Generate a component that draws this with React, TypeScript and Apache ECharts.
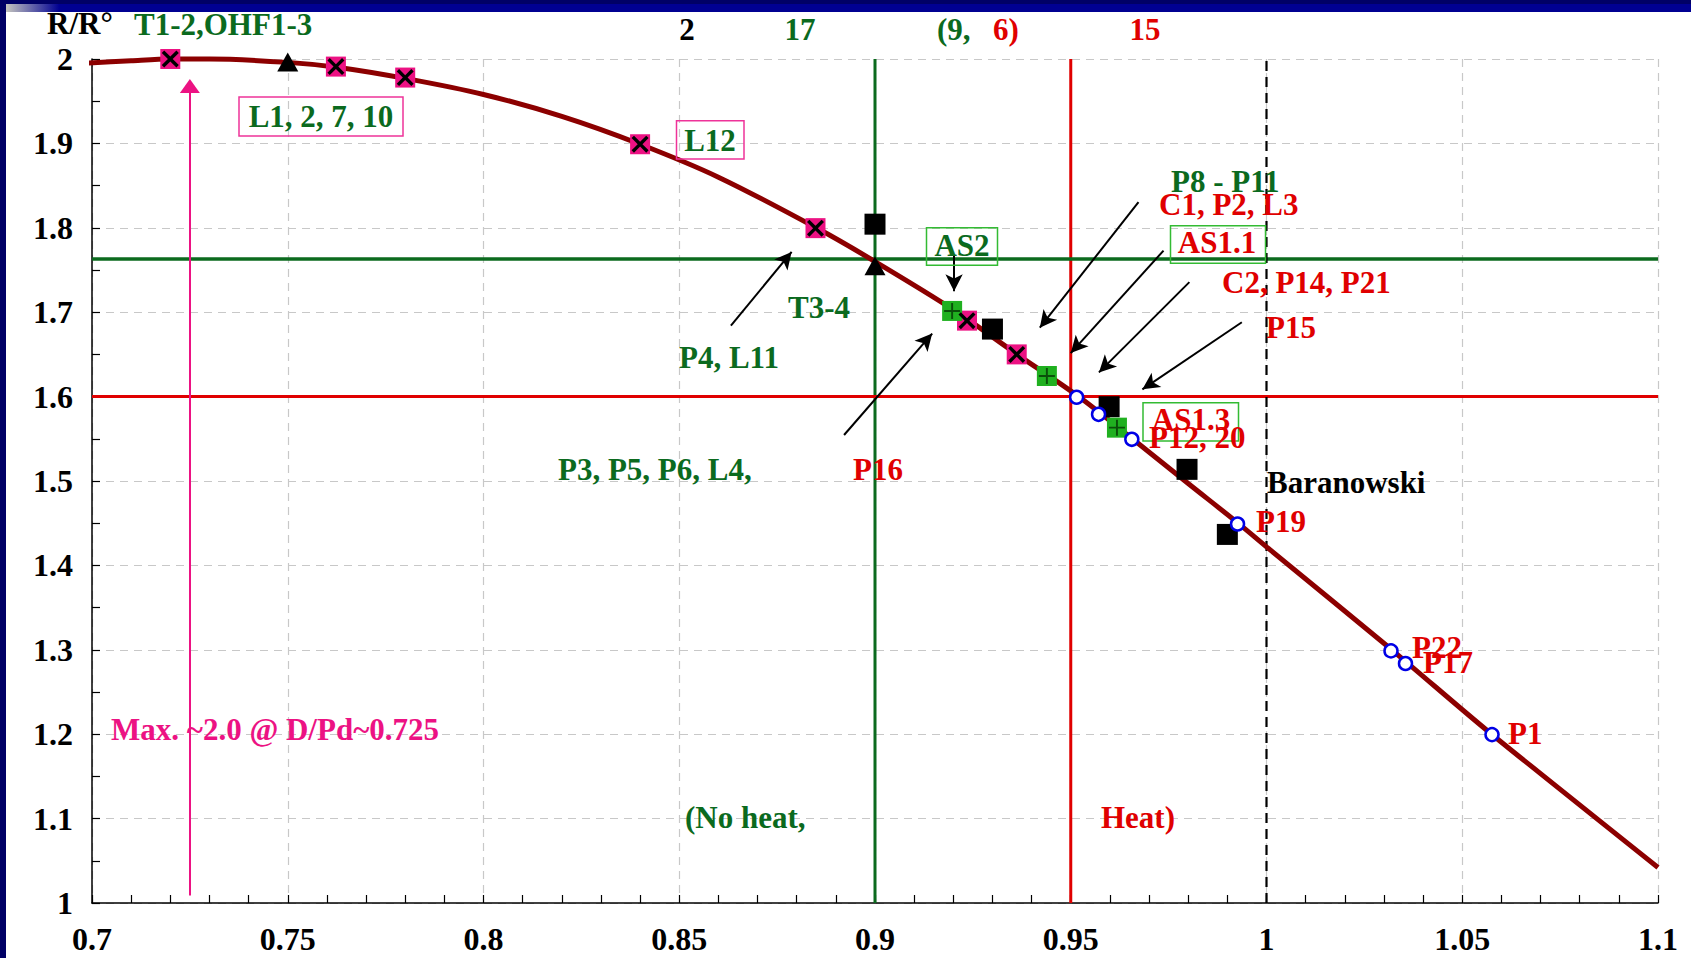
import { useEffect, useRef } from "react";
import * as echarts from "echarts";

// ---------------- data ----------------
const xMin = 0.7;
const xMax = 1.1;
const xStep = 0.05;
const yMin = 1;
const yMax = 2;
const yStep = 0.1;

// fitted curve R/R° vs D/Pd
const curveX = [0.698, 0.71, 0.72, 0.73, 0.75, 0.763, 0.78, 0.8, 0.82, 0.84, 0.86, 0.885, 0.9, 0.92, 0.936, 0.952, 0.9655, 0.98, 0.9925, 1.0, 1.032, 1.0575, 1.1];
const curveY = [1.995, 1.998, 2.0, 2.0, 1.996, 1.99, 1.977, 1.958, 1.932, 1.899, 1.86, 1.8, 1.76, 1.703, 1.651, 1.6, 1.551, 1.497, 1.451, 1.422, 1.3, 1.2, 1.042];

// pink squares with X
const pinkX = [0.72, 0.7623, 0.78, 0.84, 0.8848, 0.9235, 0.9362];
const pinkY = [2.0, 1.991, 1.978, 1.899, 1.7996, 1.69, 1.65];

// black triangles
const triX = [0.75, 0.9];
const triY = [1.9965, 1.755];

// black squares
const blackX = [0.9, 0.93, 0.9598, 0.9797, 0.99];
const blackY = [1.8043, 1.68, 1.588, 1.5138, 1.4367];

// green squares with +
const greenX = [0.9197, 0.9439, 0.9618];
const greenY = [1.7015, 1.6244, 1.5632];

// open blue circles
const circX = [0.9515, 0.9571, 0.9656, 0.9926, 1.0318, 1.0355, 1.0576];
const circY = [1.5992, 1.579, 1.5494, 1.449, 1.2987, 1.2838, 1.1995];

// reference limits
const noHeatX = 0.9;
const noHeatY = 1.763;
const heatX = 0.95;
const heatY = 1.6;
const baranowskiX = 1.0;
const maxAtX = 0.725;
const maxArrowFrom = 1.009;
const maxArrowTo = 1.968;

// black annotation arrows (tail, head) in data coordinates
const arrowTails = [
  [0.8632, 1.6841],
  [0.8921, 1.5545],
  [0.9202, 1.768],
  [0.9673, 1.8304],
  [0.9737, 1.773],
  [0.9803, 1.7356],
  [0.9937, 1.6881],
];
const arrowHeads = [
  [0.8787, 1.7714],
  [0.9146, 1.6747],
  [0.9202, 1.7249],
  [0.9421, 1.6816],
  [0.95, 1.6516],
  [0.9572, 1.6287],
  [0.9683, 1.6086],
];

// ---------------- styles ----------------
const GREEN = "#0B6A1E";
const RED = "#E00000";
const PINK = "#EC1283";
const CURVE = "#8C0000";
const BLUE = "#0000E6";
const FONT = 'bold 31px "Liberation Serif", "Times New Roman", serif';

const zip = (a: number[], b: number[]) => a.map((v, i) => [v, b[i]]);

const X_PATH =
  "path://M0,2.8 L2.8,0 L10,7.2 L17.2,0 L20,2.8 L12.8,10 L20,17.2 L17.2,20 L10,12.8 L2.8,20 L0,17.2 L7.2,10 Z";
const PLUS_PATH =
  "path://M8.8,0 L11.2,0 L11.2,8.8 L20,8.8 L20,11.2 L11.2,11.2 L11.2,20 L8.8,20 L8.8,11.2 L0,11.2 L0,8.8 L8.8,8.8 Z";

function txt(text: string, x: number, y: number, fill: string, align: string = "left") {
  return {
    type: "text",
    x,
    y,
    z: 100,
    silent: true,
    style: {
      text,
      fill,
      font: FONT,
      textAlign: align,
      textVerticalAlign: "middle",
      align,
      verticalAlign: "middle",
    },
  };
}

function box(x: number, y: number, w: number, h: number, stroke: string) {
  return {
    type: "rect",
    z: 99,
    silent: true,
    shape: { x, y, width: w, height: h },
    style: { fill: "none", stroke, lineWidth: 1.5 },
  };
}

function refLine(data: number[][], color: string, width: number, type: any = "solid") {
  return {
    type: "line",
    data,
    symbol: "none",
    silent: true,
    z: 2,
    lineStyle: { color, width, type },
    animation: false,
  };
}

export default function App() {
  const ref = useRef<HTMLDivElement>(null);

  useEffect(() => {
    if (!ref.current) return;
    const chart = echarts.init(ref.current, undefined, { renderer: "svg" });

    const axisCommon = {
      type: "value",
      axisLine: { show: true, lineStyle: { color: "#000", width: 1.5 } },
      axisTick: { show: true, inside: true, length: 8, lineStyle: { color: "#000", width: 1.2 } },
      axisLabel: {
        color: "#000",
        fontFamily: '"Liberation Serif", "Times New Roman", serif',
        fontWeight: "bold",
        fontSize: 32,
      },
      splitLine: { show: true, lineStyle: { color: "#C8C8C8", width: 1.2, type: [8, 6] } },
    };

    const option: any = {
      animation: false,
      backgroundColor: "#ffffff",
      grid: {
        left: 92,
        right: 33,
        top: 59,
        bottom: 55,
        containLabel: false,
        outerBoundsMode: "none",
      },
      xAxis: {
        ...axisCommon,
        min: xMin,
        max: xMax,
        interval: xStep,
        axisLabel: { ...axisCommon.axisLabel, margin: 20 },
        minorTick: { show: true, splitNumber: 5, length: 8, lineStyle: { color: "#000", width: 1.2 } },
      },
      yAxis: {
        ...axisCommon,
        min: yMin,
        max: yMax,
        interval: yStep,
        axisLabel: { ...axisCommon.axisLabel, margin: 19 },
        minorTick: { show: true, splitNumber: 2, length: 8, lineStyle: { color: "#000", width: 1.2 } },
      },
      series: [
        refLine([[noHeatX, yMin], [noHeatX, yMax]], GREEN, 3),
        refLine([[heatX, yMin], [heatX, yMax]], RED, 3),
        refLine([[xMin, noHeatY], [xMax, noHeatY]], GREEN, 3.5),
        refLine([[xMin, heatY], [xMax, heatY]], RED, 3),
        refLine([[baranowskiX, yMin], [baranowskiX, yMax]], "#000", 2.2, [10, 6]),
        {
          type: "line",
          data: zip(curveX, curveY),
          symbol: "none",
          smooth: 0.3,
          clip: false,
          silent: true,
          z: 3,
          lineStyle: { color: CURVE, width: 5 },
        },
        {
          type: "scatter",
          data: zip(pinkX, pinkY),
          symbol: "rect",
          symbolSize: 20,
          z: 5,
          silent: true,
          itemStyle: { color: PINK, opacity: 1 },
        },
        {
          type: "scatter",
          data: zip(pinkX, pinkY),
          symbol: X_PATH,
          symbolSize: 17,
          z: 6,
          silent: true,
          itemStyle: { color: "#000", opacity: 1 },
        },
        {
          type: "scatter",
          data: zip(triX, triY),
          symbol: "triangle",
          symbolSize: [21, 19],
          z: 5,
          silent: true,
          itemStyle: { color: "#000", opacity: 1 },
        },
        {
          type: "scatter",
          data: zip(blackX, blackY),
          symbol: "rect",
          symbolSize: 21,
          z: 5,
          silent: true,
          itemStyle: { color: "#000", opacity: 1 },
        },
        {
          type: "scatter",
          data: zip(greenX, greenY),
          symbol: "rect",
          symbolSize: 20,
          z: 5,
          silent: true,
          itemStyle: { color: "#20B020", opacity: 1 },
        },
        {
          type: "scatter",
          data: zip(greenX, greenY),
          symbol: PLUS_PATH,
          symbolSize: 16,
          z: 6,
          silent: true,
          itemStyle: { color: "#0A4F0A", opacity: 1 },
        },
        {
          type: "scatter",
          data: zip(circX, circY),
          symbol: "circle",
          symbolSize: 13,
          z: 5,
          silent: true,
          itemStyle: { color: "#ffffff", borderColor: BLUE, borderWidth: 2.5, opacity: 1 },
        },
        {
          type: "scatter",
          data: [],
          silent: true,
          z: 7,
          markLine: {
            silent: true,
            animation: false,
            symbol: ["none", "arrow"],
            symbolSize: [13, 17],
            label: { show: false },
            emphasis: { disabled: true },
            lineStyle: { color: "#000", width: 2, type: "solid" },
            data: arrowTails.map((t, i) => [{ coord: t }, { coord: arrowHeads[i] }]),
          },
        },
        {
          type: "scatter",
          data: [],
          silent: true,
          z: 7,
          markLine: {
            silent: true,
            animation: false,
            symbol: ["none", "triangle"],
            symbolSize: [20, 14],
            label: { show: false },
            emphasis: { disabled: true },
            lineStyle: { color: PINK, width: 2, type: "solid" },
            itemStyle: { color: PINK },
            data: [[{ coord: [maxAtX, maxArrowFrom] }, { coord: [maxAtX, maxArrowTo] }]],
          },
        },
      ],
      graphic: [
        // slide frame
        {
          type: "rect",
          z: 200,
          silent: true,
          shape: { x: 0, y: 0, width: 1691, height: 12 },
          style: {
            fill: new echarts.graphic.LinearGradient(0, 0, 1, 0, [
              { offset: 0, color: "#dcdcc4" },
              { offset: 0.035, color: "#000092" },
              { offset: 1, color: "#000092" },
            ]),
          },
        },
        {
          type: "rect",
          z: 201,
          silent: true,
          shape: { x: 0, y: 0, width: 1691, height: 4 },
          style: { fill: "#000066" },
        },
        {
          type: "rect",
          z: 201,
          silent: true,
          shape: { x: 0, y: 0, width: 6, height: 958 },
          style: { fill: "#000066" },
        },
        // labels
        txt("R/R°", 47, 23, "#000"),
        txt("T1-2,OHF1-3", 134, 24, GREEN),
        txt("2", 687, 29, "#000", "center"),
        txt("17", 800, 29, GREEN, "center"),
        txt("(9,", 937, 29, GREEN),
        txt("6)", 993, 29, RED),
        txt("15", 1145, 29, RED, "center"),
        box(239, 97, 164, 39, "#EE3399"),
        txt("L1, 2, 7, 10", 321, 116, GREEN, "center"),
        box(676.5, 120.7, 67.5, 38.3, "#EE3399"),
        txt("L12", 710, 140, GREEN, "center"),
        txt("P8 - P11", 1171, 181, GREEN),
        txt("C1, P2, L3", 1159, 204, RED),
        box(926.5, 227.7, 71, 37.5, "#33BB33"),
        txt("AS2", 962, 245, GREEN, "center"),
        box(1170.5, 225.7, 95, 37.6, "#33BB33"),
        txt("AS1.1", 1217, 242, RED, "center"),
        txt("C2, P14, P21", 1222, 282.5, RED),
        txt("P15", 1266, 327.5, RED),
        txt("T3-4", 819, 307, GREEN, "center"),
        txt("P4, L11", 679, 357.5, GREEN),
        box(1143, 402.7, 95.5, 38.3, "#33BB33"),
        txt("AS1.3", 1191, 419, RED, "center"),
        txt("P12, 20", 1149, 437, RED),
        txt("P3, P5, P6, L4,", 558, 469, GREEN),
        txt("P16", 853, 469, RED),
        txt("Baranowski", 1267, 482, "#000"),
        txt("P19", 1256, 521, RED),
        txt("P22", 1412, 647, RED),
        txt("P17", 1423, 662, RED),
        txt("P1", 1508, 733, RED),
        txt("Max. ~2.0 @ D/Pd~0.725", 111, 729, PINK),
        txt("(No heat,", 685, 817.5, GREEN),
        txt("Heat)", 1101, 817.5, RED),
      ],
    };

    chart.setOption(option);
    return () => {
      chart.dispose();
    };
  }, []);

  return (
    <div
      ref={ref}
      style={{ position: "absolute", left: 0, top: 0, width: 1691, height: 958, background: "#fff" }}
    />
  );
}
